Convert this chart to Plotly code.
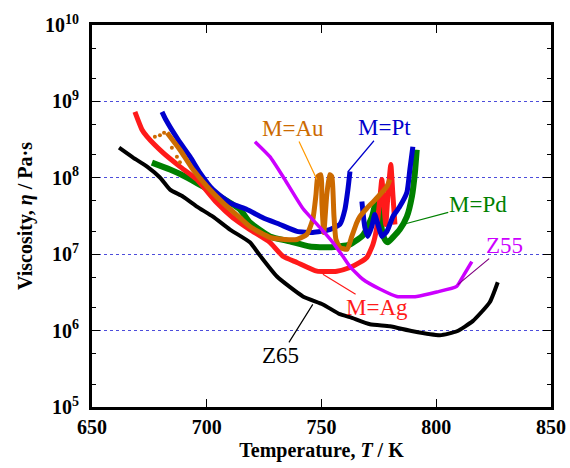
import math
import plotly.graph_objects as go

# ---------------- data (temperature in K, viscosity in Pa·s) ----------------
z65_T = [661.8, 667.9, 674.0, 679.6, 684.0, 689.6, 695.7, 702.7, 710.1, 718.8, 723.2,
         730.6, 741.9, 750.6, 758.0, 762.4, 771.1, 779.8, 789.8, 801.6, 809.0, 815.9,
         823.3, 826.8]
z65_eta = [2.48e8, 1.84e8, 1.40e8, 1.01e8, 7.0e7, 5.7e7, 4.2e7, 3.1e7, 2.1e7, 1.43e7, 9.6e6,
           5.1e6, 2.8e6, 2.2e6, 1.64e6, 1.5e6, 1.21e6, 1.14e6, 9.8e5, 8.7e5, 9.8e5, 1.33e6,
           2.35e6, 4.3e6]

ag_T = [668.7, 671.8, 674.0, 680.9, 688.3, 695.7, 704.4, 711.4, 718.8, 727.5, 733.2, 739.3,
        748.0, 756.7, 762.4, 766.7, 769.8, 772.4, 774.1, 775.4, 776.3, 777.2, 778.0, 778.9,
        780.2, 781.1, 782.0]
ag_eta = [7.3e8, 4.26e8, 3.45e8, 2.13e8, 1.40e8, 9.5e7, 4.7e7, 3.0e7, 2.1e7, 1.43e7, 9.4e6,
          7.8e6, 6.0e6, 6.0e6, 6.7e6, 7.8e6, 9.1e6, 1.34e7, 2.24e7, 5.2e7, 9.5e7, 4.5e7,
          2.45e7, 5.7e7, 1.49e8, 6.0e7, 2.45e7]

pt_T = [680.5, 682.2, 687.5, 692.7, 697.0, 702.7, 710.1, 717.5, 724.5, 731.9, 739.3, 746.2,
        753.6, 758.0, 760.2, 761.5, 762.4, None, 767.6, 768.9, 770.2, 771.9, 773.2, 774.6,
        776.3, 778.5, 781.1, 784.1, 787.2, 788.5, 789.8]
pt_eta = [7.3e8, 5.75e8, 3.16e8, 1.89e8, 1.17e8, 7.0e7, 4.7e7, 3.85e7, 3.0e7, 2.45e7, 1.99e7,
          1.93e7, 2.1e7, 2.45e7, 3.85e7, 7.0e7, 1.21e8, None, 4.9e7, 2.24e7, 1.71e7, 2.3e7,
          3.3e7, 2.45e7, 1.71e7, 1.99e7, 3.1e7, 4.2e7, 6.4e7, 1.28e8, 2.55e8]

au_T = [682.7, 688.3, 694.0, 700.1, 707.1, 714.5, 718.8, 727.5, 734.0, 739.3, 743.6, 746.2,
        747.6, 748.4, 749.7, 750.2, 751.0, 752.3, 753.6, 754.5, 755.4, 756.3, 758.0, 761.1,
        763.2, 765.4, 766.7, 769.8, 772.4, 775.4, 778.5, 779.8]
au_eta = [3.89e8, 2.33e8, 1.28e8, 7.7e7, 4.7e7, 3.0e7, 2.3e7, 1.66e7, 1.56e7, 1.56e7, 1.81e7,
          2.85e7, 6.0e7, 1.04e8, 1.1e8, 4.5e7, 1.93e7, 6.0e7, 1.1e8, 1.04e8, 3.3e7, 1.56e7,
          1.23e7, 1.16e7, 1.71e7, 2.6e7, 3.1e7, 4.0e7, 4.8e7, 6.0e7, 7.7e7, 9.5e7]
au_dot_T = [677.4, 679.6, 681.4, 684.8, 687.0, 688.3]
au_dot_eta = [3.45e8, 3.6e8, 3.89e8, 2.48e8, 1.89e8, 1.6e8]

pd_T = [676.1, 684.0, 691.4, 698.3, 705.7, 714.5, 718.8, 727.5, 736.2, 744.9, 753.6, 762.4,
        765.8, 767.6, 768.9, 772.0, 773.2, 774.6, 775.4, 776.3, 777.6, 778.9, 781.1, 784.1,
        787.2, 789.4, 790.7, 791.5]
pd_eta = [1.58e8, 1.28e8, 1.01e8, 7.7e7, 5.7e7, 3.85e7, 2.6e7, 1.71e7, 1.47e7, 1.26e7, 1.23e7,
          1.34e7, 1.56e7, 1.71e7, 1.93e7, 3.1e7, 4.2e7, 4.9e7, 3.85e7, 2.1e7, 1.56e7, 1.43e7,
          1.66e7, 2.1e7, 3.1e7, 5.7e7, 1.17e8, 2.33e8]

z55_T = [721.0, 727.5, 733.2, 741.9, 749.3, 754.9, 759.3, 762.4, 768.0, 775.4, 782.8, 791.5,
         800.2, 808.9, 811.6, 815.5]
z55_eta = [2.97e8, 1.89e8, 1.04e8, 3.96e7, 2.24e7, 1.43e7, 9.4e6, 6.9e6, 4.7e6, 3.5e6, 2.8e6,
           2.8e6, 3.2e6, 3.8e6, 5.1e6, 8.0e6]

# label texts and anchor points on curves (T, eta)
labels = ["M=Au", "M=Pt", "M=Pd", "Z55", "M=Ag", "Z65"]
label_T = [748.0, 761.5, 785.4, 809.4, 750.6, 746.2]
label_eta = [9.5e7, 1.2e8, 2.45e7, 4.0e6, 5.45e6, 2.2e6]

y_ticks = [1e5, 1e6, 1e7, 1e8, 1e9, 1e10]
y_ticktext = ["<b>10<sup>5</sup></b>", "<b>10<sup>6</sup></b>", "<b>10<sup>7</sup></b>",
              "<b>10<sup>8</sup></b>", "<b>10<sup>9</sup></b>", "<b>10<sup>10</sup></b>"]
x_ticks = [650, 700, 750, 800, 850]
x_ticktext = ["<b>650</b>", "<b>700</b>", "<b>750</b>", "<b>800</b>", "<b>850</b>"]

# ---------------- styling ----------------
C_BLACK = "#000000"
C_RED = "#ff1a1a"
C_BLUE = "#0000cc"
C_ORANGE = "#cc6a00"
C_GREEN = "#008000"
C_MAG = "#cc00ff"

FONT = "Liberation Serif, Times New Roman, serif"

fig = go.Figure()

def add_line(x, y, color, width):
    fig.add_trace(go.Scatter(x=x, y=y, mode="lines",
                             line=dict(color=color, width=width, shape="spline", smoothing=0.5),
                             connectgaps=False, showlegend=False, hoverinfo="skip"))

add_line(pd_T, pd_eta, C_GREEN, 6)
add_line(ag_T, ag_eta, C_RED, 5)
add_line(pt_T, pt_eta, C_BLUE, 5)
add_line(au_T, au_eta, C_ORANGE, 5)
add_line(z65_T, z65_eta, C_BLACK, 4)
add_line(z55_T, z55_eta, C_MAG, 3.5)
fig.add_trace(go.Scatter(x=au_dot_T, y=au_dot_eta, mode="markers",
                         marker=dict(color=C_ORANGE, size=4), showlegend=False,
                         hoverinfo="skip"))

label_style = [
    (C_ORANGE, "#ff9900", -24, -51),
    (C_BLUE, C_BLUE, 37, -44),
    (C_GREEN, C_GREEN, 75, -20),
    (C_MAG, "#800080", 47, -39),
    (C_RED, C_RED, 54, 33),
    (C_BLACK, C_BLACK, -32, 51),
]
for txt, t, e, (tc, lc, ax, ay) in zip(labels, label_T, label_eta, label_style):
    fig.add_annotation(x=t, y=math.log10(e), text=txt, showarrow=True, arrowhead=0,
                       arrowwidth=1.2, arrowcolor=lc, ax=ax, ay=ay, standoff=0,
                       font=dict(family=FONT, size=23, color=tc), borderpad=0)

fig.update_layout(
    width=570, height=468,
    margin=dict(l=92, r=19, t=25, b=61, autoexpand=False),
    paper_bgcolor="white", plot_bgcolor="white",
    font=dict(family=FONT, size=20, color="black"),
)
fig.update_xaxes(
    range=[650, 850], tickvals=x_ticks, ticktext=x_ticktext, ticks="inside", ticklen=8,
    tickwidth=1.2, tickcolor="black", showline=True, linewidth=3, linecolor="black",
    mirror="ticks", showgrid=False, zeroline=False, automargin=False,
    tickfont=dict(family=FONT, size=20, color="black"),
    title=dict(text="<b>Temperature, <i>T</i> / K</b>", standoff=6,
               font=dict(family=FONT, size=20, color="black")),
)
fig.update_yaxes(
    type="log", range=[5, 10], tickvals=y_ticks, ticktext=y_ticktext,
    ticks="inside", ticklen=8, tickwidth=1.2, tickcolor="black",
    showline=True, linewidth=3, linecolor="black", mirror="ticks",
    showgrid=True, gridcolor="#4d4ddb", griddash="dot", gridwidth=1.2, zeroline=False,
    minor=dict(ticks="inside", ticklen=4, tickcolor="black", tickwidth=1, showgrid=False),
    ticklabelstandoff=6, automargin=False,
    tickfont=dict(family=FONT, size=20, color="black"),
    title=dict(text="<b>Viscosity, <i>η</i> / Pa·s</b>", standoff=8,
               font=dict(family=FONT, size=20, color="black")),
)

fig.write_html("out.html", config={"displayModeBar": False},
               post_script="document.body.style.margin='0';document.body.style.overflow='hidden';")
